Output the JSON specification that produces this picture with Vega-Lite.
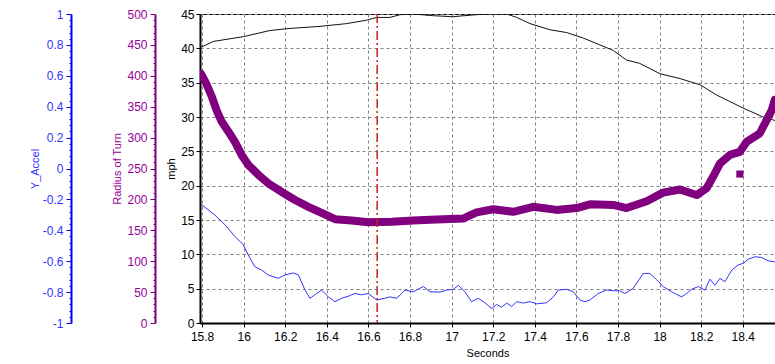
{
  "$schema": "https://vega.github.io/schema/vega-lite/v6.json",
  "width": 575,
  "height": 309,
  "autosize": "none",
  "padding": {"left": 200, "top": 14, "right": 0, "bottom": 41},
  "background": "white",
  "config": {
    "font": "Liberation Sans",
    "view": {"stroke": "black", "strokeWidth": 1},
    "axis": {"labelFont": "Liberation Sans", "titleFont": "Liberation Sans", "labelFontSize": 12, "titleFontSize": 11, "titleFontWeight": "normal", "labelFlush": false, "labelOverlap": false}
  },
  "datasets": {
    "speed": [
      {"s": 15.798, "mph": 40.2}, {"s": 15.854, "mph": 41.0}, {"s": 15.998, "mph": 41.7}, {"s": 16.127, "mph": 42.6},
      {"s": 16.223, "mph": 42.9}, {"s": 16.367, "mph": 43.2}, {"s": 16.495, "mph": 43.6}, {"s": 16.591, "mph": 44.1},
      {"s": 16.640, "mph": 44.5}, {"s": 16.703, "mph": 44.5}, {"s": 16.752, "mph": 44.9}, {"s": 16.815, "mph": 45.0},
      {"s": 16.912, "mph": 44.75}, {"s": 17.008, "mph": 44.6}, {"s": 17.040, "mph": 44.7}, {"s": 17.120, "mph": 44.9},
      {"s": 17.168, "mph": 45.0}, {"s": 17.265, "mph": 45.0}, {"s": 17.313, "mph": 44.5}, {"s": 17.377, "mph": 43.6},
      {"s": 17.473, "mph": 42.7}, {"s": 17.553, "mph": 42.3}, {"s": 17.633, "mph": 41.5}, {"s": 17.713, "mph": 40.5},
      {"s": 17.777, "mph": 39.7}, {"s": 17.841, "mph": 38.3}, {"s": 17.905, "mph": 37.8}, {"s": 18.002, "mph": 36.3},
      {"s": 18.098, "mph": 35.6}, {"s": 18.194, "mph": 34.7}, {"s": 18.274, "mph": 33.2}, {"s": 18.402, "mph": 31.3},
      {"s": 18.498, "mph": 30.0}, {"s": 18.554, "mph": 29.5}
    ],
    "radius": [
      {"s": 15.795, "r": 403}, {"s": 15.822, "r": 386}, {"s": 15.846, "r": 367}, {"s": 15.870, "r": 344},
      {"s": 15.894, "r": 326}, {"s": 15.926, "r": 310}, {"s": 15.958, "r": 293}, {"s": 15.990, "r": 272},
      {"s": 16.022, "r": 256}, {"s": 16.070, "r": 240}, {"s": 16.118, "r": 226}, {"s": 16.183, "r": 212},
      {"s": 16.247, "r": 199}, {"s": 16.311, "r": 188}, {"s": 16.375, "r": 178}, {"s": 16.439, "r": 168},
      {"s": 16.519, "r": 166}, {"s": 16.599, "r": 163}, {"s": 16.712, "r": 164}, {"s": 16.815, "r": 166},
      {"s": 16.896, "r": 167}, {"s": 17.056, "r": 169}, {"s": 17.088, "r": 174}, {"s": 17.120, "r": 179},
      {"s": 17.200, "r": 184}, {"s": 17.296, "r": 180}, {"s": 17.392, "r": 188}, {"s": 17.505, "r": 183},
      {"s": 17.601, "r": 186}, {"s": 17.665, "r": 192}, {"s": 17.777, "r": 191}, {"s": 17.841, "r": 186},
      {"s": 17.938, "r": 197}, {"s": 18.017, "r": 211}, {"s": 18.098, "r": 216}, {"s": 18.178, "r": 207},
      {"s": 18.226, "r": 218}, {"s": 18.258, "r": 237}, {"s": 18.290, "r": 258}, {"s": 18.338, "r": 272},
      {"s": 18.386, "r": 277}, {"s": 18.418, "r": 293}, {"s": 18.482, "r": 307}, {"s": 18.516, "r": 329},
      {"s": 18.539, "r": 344}, {"s": 18.554, "r": 361}
    ],
    "outlier": [{"s": 18.386, "r": 241}],
    "accel": [
      {"s": 15.795, "ya": -0.231}, {"s": 15.862, "ya": -0.302}, {"s": 15.910, "ya": -0.364}, {"s": 15.958, "ya": -0.440},
      {"s": 15.998, "ya": -0.493}, {"s": 16.022, "ya": -0.560}, {"s": 16.054, "ya": -0.636}, {"s": 16.087, "ya": -0.658},
      {"s": 16.118, "ya": -0.689}, {"s": 16.166, "ya": -0.711}, {"s": 16.199, "ya": -0.689}, {"s": 16.239, "ya": -0.676},
      {"s": 16.263, "ya": -0.689}, {"s": 16.295, "ya": -0.787}, {"s": 16.319, "ya": -0.840}, {"s": 16.351, "ya": -0.809},
      {"s": 16.375, "ya": -0.787}, {"s": 16.407, "ya": -0.831}, {"s": 16.439, "ya": -0.862}, {"s": 16.471, "ya": -0.840},
      {"s": 16.503, "ya": -0.827}, {"s": 16.535, "ya": -0.809}, {"s": 16.567, "ya": -0.818}, {"s": 16.599, "ya": -0.809},
      {"s": 16.640, "ya": -0.851}, {"s": 16.679, "ya": -0.840}, {"s": 16.703, "ya": -0.831}, {"s": 16.736, "ya": -0.840},
      {"s": 16.776, "ya": -0.787}, {"s": 16.815, "ya": -0.798}, {"s": 16.864, "ya": -0.764}, {"s": 16.896, "ya": -0.798},
      {"s": 16.944, "ya": -0.800}, {"s": 16.976, "ya": -0.787}, {"s": 17.008, "ya": -0.782}, {"s": 17.032, "ya": -0.756},
      {"s": 17.064, "ya": -0.798}, {"s": 17.096, "ya": -0.862}, {"s": 17.128, "ya": -0.840}, {"s": 17.160, "ya": -0.869},
      {"s": 17.192, "ya": -0.907}, {"s": 17.216, "ya": -0.880}, {"s": 17.240, "ya": -0.898}, {"s": 17.265, "ya": -0.871},
      {"s": 17.289, "ya": -0.893}, {"s": 17.313, "ya": -0.862}, {"s": 17.344, "ya": -0.871}, {"s": 17.377, "ya": -0.862},
      {"s": 17.409, "ya": -0.876}, {"s": 17.457, "ya": -0.869}, {"s": 17.489, "ya": -0.831}, {"s": 17.513, "ya": -0.787},
      {"s": 17.553, "ya": -0.782}, {"s": 17.585, "ya": -0.798}, {"s": 17.617, "ya": -0.851}, {"s": 17.641, "ya": -0.862},
      {"s": 17.665, "ya": -0.851}, {"s": 17.705, "ya": -0.809}, {"s": 17.745, "ya": -0.787}, {"s": 17.777, "ya": -0.791},
      {"s": 17.809, "ya": -0.791}, {"s": 17.833, "ya": -0.809}, {"s": 17.873, "ya": -0.776}, {"s": 17.921, "ya": -0.680},
      {"s": 17.953, "ya": -0.680}, {"s": 17.986, "ya": -0.720}, {"s": 18.017, "ya": -0.764}, {"s": 18.066, "ya": -0.804},
      {"s": 18.106, "ya": -0.831}, {"s": 18.130, "ya": -0.809}, {"s": 18.154, "ya": -0.782}, {"s": 18.186, "ya": -0.764},
      {"s": 18.218, "ya": -0.787}, {"s": 18.242, "ya": -0.716}, {"s": 18.266, "ya": -0.756}, {"s": 18.290, "ya": -0.711},
      {"s": 18.314, "ya": -0.733}, {"s": 18.347, "ya": -0.658}, {"s": 18.379, "ya": -0.624}, {"s": 18.403, "ya": -0.613},
      {"s": 18.426, "ya": -0.587}, {"s": 18.459, "ya": -0.571}, {"s": 18.490, "ya": -0.576}, {"s": 18.522, "ya": -0.597},
      {"s": 18.554, "ya": -0.604}
    ],
    "marker": [{"s": 16.642}]
  },
  "encoding": {
    "x": {
      "field": "s", "type": "quantitative",
      "scale": {"domain": [15.79, 18.555], "nice": false, "zero": false},
      "axis": {
        "title": "Seconds",
        "values": [15.8, 16, 16.2, 16.4, 16.6, 16.8, 17, 17.2, 17.4, 17.6, 17.8, 18, 18.2, 18.4],
        "labelExpr": "'' + datum.value",
        "grid": true, "gridDash": [3, 3], "gridColor": "#808080", "gridWidth": 1,
        "domainColor": "black", "domainWidth": 2,
        "tickColor": "black", "tickSize": 4, "labelPadding": 4,
        "labelColor": "black", "titleColor": "black",
        "titleX": 287.5, "titleY": 30, "titleBaseline": "middle", "titleAlign": "center"
      }
    }
  },
  "layer": [
    {
      "data": {"name": "speed"},
      "mark": {"type": "line", "color": "#111111", "strokeWidth": 1, "clip": true},
      "encoding": {
        "y": {
          "field": "mph", "type": "quantitative",
          "scale": {"domain": [0, 45], "nice": false, "zero": false},
          "axis": {
            "title": "mph", "orient": "left",
            "values": [0, 5, 10, 15, 20, 25, 30, 35, 40, 45],
            "labelExpr": "'' + datum.value",
            "grid": true, "gridDash": [3, 3], "gridColor": "#808080", "gridWidth": 1,
            "domainColor": "black", "domainWidth": 2,
            "tickColor": "black", "tickSize": 4, "labelPadding": 2,
            "labelColor": "black", "titleColor": "black",
            "titleX": -29, "titleY": 154.5, "titleBaseline": "middle", "titleAlign": "center", "titleAngle": 270
          }
        }
      }
    },
    {
      "data": {"name": "accel"},
      "mark": {"type": "line", "color": "#3333ff", "strokeWidth": 1, "clip": true},
      "encoding": {
        "y": {
          "field": "ya", "type": "quantitative",
          "scale": {"domain": [-1, 1], "nice": false, "zero": false},
          "axis": {
            "title": "Y_Accel", "orient": "left", "offset": 129,
            "values": [-1, -0.96, -0.92, -0.88, -0.84, -0.8, -0.76, -0.72, -0.68, -0.64, -0.6, -0.56, -0.52, -0.48, -0.44, -0.4, -0.36, -0.32, -0.28, -0.24, -0.2, -0.16, -0.12, -0.08, -0.04, 0, 0.04, 0.08, 0.12, 0.16, 0.2, 0.24, 0.28, 0.32, 0.36, 0.4, 0.44, 0.48, 0.52, 0.56, 0.6, 0.64, 0.68, 0.72, 0.76, 0.8, 0.84, 0.88, 0.92, 0.96, 1],
            "labelExpr": "abs(datum.value * 5 - round(datum.value * 5)) < 0.000001 ? '' + round(datum.value * 10) / 10 : ''",
            "tickSize": {"condition": {"test": "abs(datum.value * 5 - round(datum.value * 5)) < 0.000001", "value": 5}, "value": 2},
            "grid": false,
            "domainColor": "#0000ff", "domainWidth": 2,
            "tickColor": "#0000ff", "labelPadding": 3,
            "labelColor": "#3333ff", "titleColor": "#3333ff",
            "titleX": -36, "titleY": 154.5, "titleBaseline": "middle", "titleAlign": "center", "titleAngle": 270
          }
        }
      }
    },
    {
      "data": {"name": "radius"},
      "mark": {"type": "line", "color": "#800080", "strokeWidth": 8, "strokeCap": "round", "strokeJoin": "round", "clip": true},
      "encoding": {
        "y": {
          "field": "r", "type": "quantitative",
          "scale": {"domain": [0, 500], "nice": false, "zero": false},
          "axis": {
            "title": "Radius of Turn", "orient": "left", "offset": 45,
            "values": [0, 10, 20, 30, 40, 50, 60, 70, 80, 90, 100, 110, 120, 130, 140, 150, 160, 170, 180, 190, 200, 210, 220, 230, 240, 250, 260, 270, 280, 290, 300, 310, 320, 330, 340, 350, 360, 370, 380, 390, 400, 410, 420, 430, 440, 450, 460, 470, 480, 490, 500],
            "labelExpr": "datum.value % 50 == 0 ? '' + datum.value : ''",
            "tickSize": {"condition": {"test": "datum.value % 50 == 0", "value": 5}, "value": 2},
            "grid": false,
            "domainColor": "#800080", "domainWidth": 2,
            "tickColor": "#800080", "labelPadding": 3,
            "labelColor": "#990099", "titleColor": "#990099",
            "titleX": -38, "titleY": 154.5, "titleBaseline": "middle", "titleAlign": "center", "titleAngle": 270
          }
        }
      }
    },
    {
      "data": {"name": "outlier"},
      "mark": {"type": "square", "color": "#800080", "opacity": 1, "size": 50, "clip": true},
      "encoding": {
        "y": {"field": "r", "type": "quantitative", "scale": {"domain": [0, 500], "nice": false, "zero": false}, "axis": null}
      }
    },
    {
      "data": {"name": "marker"},
      "mark": {"type": "rule", "color": "#c02020", "strokeWidth": 1.5, "strokeDash": [9, 3, 2, 3]},
      "encoding": {}
    }
  ],
  "resolve": {"scale": {"y": "independent"}}
}
